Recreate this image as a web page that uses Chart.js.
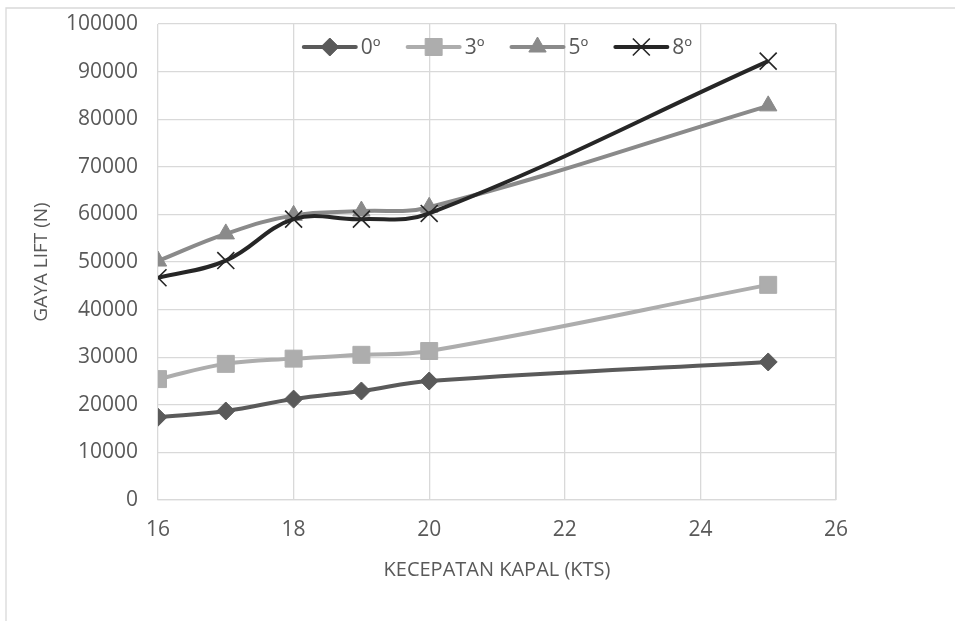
<!DOCTYPE html>
<html>
<head>
<meta charset="utf-8">
<script src="https://cdn.jsdelivr.net/npm/chart.js@4.4.1/dist/chart.umd.min.js"></script>
<style>
  html, body { margin: 0; padding: 0; background: #ffffff; }
  #wrap { width: 955px; height: 621px; position: relative; }
</style>
</head>
<body>
<div id="wrap"><canvas id="chart" width="955" height="621"></canvas></div>
<script>
// Ship speed (knots) and lift force (N) for each foil angle
const speeds = [16, 17, 18, 19, 20, 25];
const lift0 = [17400, 18700, 21200, 22900, 25000, 29000];
const lift3 = [25400, 28600, 29700, 30500, 31300, 45200];
const lift5 = [50200, 55900, 59800, 60700, 61500, 82800];
const lift8 = [46700, 50300, 59000, 59000, 60200, 92200];
const seriesNames = ['0º', '3º', '5º', '8º'];
const xTicks = [16, 18, 20, 22, 24, 26];
const yMax = 100000;

const FONT = "'Open Sans', 'DejaVu Sans', sans-serif";
const TEXT = '#595959';
const GRID = '#d9d9d9';

const styles = [
  { color: '#5a5a5a', point: 'rectRot', radius: 9, pw: 1 },
  { color: '#adadad', point: 'rect', radius: 12, pw: 1 },
  { color: '#8a8a8a', point: 'triangle', radius: 10, pw: 1 },
  { color: '#262626', point: 'crossRot', radius: 12, pw: 1.6 }
];

const allValues = [lift0, lift3, lift5, lift8];
const datasets = allValues.map((vals, i) => {
  const s = styles[i];
  return {
    label: seriesNames[i],
    data: speeds.map((x, k) => ({ x: x, y: vals[k] })),
    borderColor: s.color,
    backgroundColor: s.color,
    borderWidth: 4,
    pointStyle: s.point,
    pointRadius: s.radius,
    pointBorderWidth: s.pw,
    pointBackgroundColor: s.color,
    pointBorderColor: s.color,
    tension: 0.4,
    order: 3 - i
  };
});

// Thin frame along the top and left edges of the chart box
const framePlugin = {
  id: 'frame',
  beforeDraw(chart) {
    const ctx = chart.ctx;
    ctx.save();
    ctx.fillStyle = '#ffffff';
    ctx.fillRect(0, 0, chart.width, chart.height);
    ctx.strokeStyle = GRID;
    ctx.lineWidth = 1.3;
    ctx.beginPath();
    ctx.moveTo(6, chart.height);
    ctx.lineTo(6, 8);
    ctx.lineTo(chart.width, 8);
    ctx.stroke();
    ctx.restore();
  }
};

// Right edge of the plotting area
const plotFramePlugin = {
  id: 'plotFrame',
  afterDraw(chart) {
    const a = chart.chartArea, ctx = chart.ctx;
    ctx.save();
    ctx.strokeStyle = GRID; ctx.lineWidth = 1.3;
    ctx.beginPath(); ctx.moveTo(a.right, a.top); ctx.lineTo(a.right, a.bottom); ctx.stroke();
    ctx.restore();
  }
};

// Horizontal legend laid over the top of the plotting area
const insetLegendPlugin = {
  id: 'insetLegend',
  afterDatasetsDraw(chart) {
    const ctx = chart.ctx, a = chart.chartArea;
    const lineLen = 56, gapText = 3, gapItem = 25;
    ctx.save();
    ctx.font = '21px ' + FONT;
    const items = chart.data.datasets.map((d) => ({ d, w: lineLen + gapText + ctx.measureText(d.label).width }));
    const total = items.reduce((t, it) => t + it.w, 0) + gapItem * (items.length - 1);
    let x = (a.left + a.right) / 2 - total / 2;
    const y = a.top + 23;
    items.forEach((it) => {
      const d = it.d;
      ctx.strokeStyle = d.borderColor; ctx.lineWidth = 4; ctx.lineCap = 'round';
      ctx.beginPath(); ctx.moveTo(x + 2, y); ctx.lineTo(x + lineLen - 2, y); ctx.stroke();
      ctx.fillStyle = d.borderColor; ctx.strokeStyle = d.borderColor;
      ctx.lineCap = 'butt';
      ctx.lineWidth = d.pointBorderWidth;
      Chart.helpers.drawPoint(ctx, {
        pointStyle: d.pointStyle, radius: d.pointRadius, rotation: 0, borderWidth: d.pointBorderWidth
      }, x + lineLen / 2, y);
      ctx.fillStyle = TEXT;
      ctx.textBaseline = 'middle';
      ctx.textAlign = 'left';
      ctx.fillText(d.label, x + lineLen + gapText, y + 1);
      x += it.w + gapItem;
    });
    ctx.restore();
  }
};

new Chart(document.getElementById('chart'), {
  type: 'line',
  data: { datasets: datasets },
  options: {
    responsive: false,
    animation: false,
    layout: { padding: { left: 30, top: 24, right: 119, bottom: 39 } },
    plugins: {
      tooltip: { enabled: false },
      legend: { display: false }
    },
    scales: {
      x: {
        type: 'linear',
        min: xTicks[0],
        max: xTicks[xTicks.length - 1],
        afterBuildTicks(scale) { scale.ticks = xTicks.map(v => ({ value: v })); },
        afterFit(scale) { scale.height = 82; },
        grid: { color: GRID, lineWidth: 1.3, drawTicks: false },
        border: { color: GRID, width: 1.3 },
        ticks: { color: TEXT, font: { family: FONT, size: 21 }, padding: 17, maxRotation: 0 },
        title: {
          display: true,
          text: 'KECEPATAN KAPAL (KTS)',
          color: TEXT,
          font: { family: FONT, size: 20 },
          padding: 0
        }
      },
      y: {
        min: 0,
        max: yMax,
        afterFit(scale) {
          scale.width = 128;
          scale.paddingTop = 0;
          scale.paddingBottom = 0;
        },
        grid: { color: GRID, lineWidth: 1.3, drawTicks: false },
        border: { display: false },
        ticks: {
          stepSize: 10000,
          color: TEXT,
          font: { family: FONT, size: 21 },
          padding: 20,
          callback: v => String(v)
        },
        title: {
          display: true,
          text: 'GAYA LIFT (N)',
          color: TEXT,
          font: { family: FONT, size: 19 },
          padding: 0
        }
      }
    }
  },
  plugins: [framePlugin, plotFramePlugin, insetLegendPlugin]
});
</script>
</body>
</html>
